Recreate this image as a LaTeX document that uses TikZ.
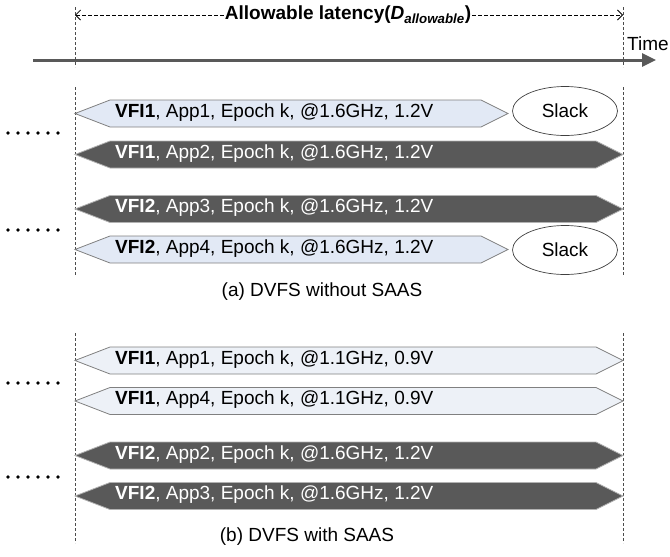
\documentclass[tikz,border=0pt]{standalone}
\usepackage{fontspec}
\setmainfont{Liberation Sans}
\usetikzlibrary{arrows.meta,shapes.geometric}
\definecolor{lightfill}{HTML}{E2E9F5}
\definecolor{palefill}{HTML}{EDF1F7}
\definecolor{darkfill}{HTML}{595959}
\tikzset{
    lightbar/.style ={
        draw=black!50,
        fill=lightfill,
        line width=0.8pt
    },
    palebar/.style ={
        draw=black!50,
        fill=palefill,
        line width=0.8pt
    },
    darkbar/.style ={
        draw=black!30,
        fill=darkfill,
        line width=0.8pt
    },
    bartext/.style ={
        anchor=base west,
        inner sep=0pt
    },
    slack/.style ={
        shape=ellipse,
        draw=black!75,
        line width=0.7pt,
        minimum width=105pt,
        minimum height=49pt
    },
    guide/.style ={
        draw=black!70,
        dash pattern=on 3pt off 2pt,
        line width=0.7pt
    }
}
% one task: style, centre y, x of right tip
\newcommand{\taskshape}[3]{%
    \draw[#1] (75,#2) -- (110,#2-13.5) -- (#3-27,#2-13.5) -- (#3,#2)
        -- (#3-27,#2+13.5) -- (110,#2+13.5) -- cycle;}

\begin{document}
\begin{tikzpicture}[x=1pt,y=-1pt,font=\fontsize{19}{23}\selectfont]
    \useasboundingbox (0,0) rectangle (670,557);
    % time axis
    \coordinate (t0) at (33,60);
    \coordinate (t1) at (656,60);
    \draw[darkfill,line width=3pt,-{Triangle[length=14pt,width=13pt]}] (t0) -- (t1);
    \node[anchor=base west,inner sep=0pt] (time) at (627,50) {Time};
    % latency bounds
    \draw[guide] (75,7) -- (75,67);
    \draw[guide] (623,7) -- (623,67);
    \draw[guide] (75,87) -- (75,275);
    \draw[guide] (623,87) -- (623,275);
    \draw[guide] (75,333) -- (75,543);
    \draw[guide] (623,333) -- (623,543);
    \coordinate (latL) at (75,15);
    \coordinate (latR) at (623,15);
    \node[fill=white,inner sep=1pt,font=\fontsize{19}{23}\selectfont\bfseries] (latency) at (348,15)
        {Allowable latency(\textit{D}\textsubscript{\textit{allowable}})};
    \draw[dash pattern=on 4pt off 2pt,line width=0.8pt,-{Straight Barb[length=5pt,width=10pt]}] (latency) -- (latL);
    \draw[dash pattern=on 4pt off 2pt,line width=0.8pt,-{Straight Barb[length=5pt,width=10pt]}] (latency) -- (latR);

    % (a) without SAAS
    \taskshape{lightbar}{113.5}{508}
    \taskshape{darkbar}{154.5}{623}
    \taskshape{darkbar}{209}{623}
    \taskshape{lightbar}{249.5}{508}
    \node[bartext] (a1) at (115,117) {\textbf{VFI1}, App1, Epoch k, @1.6GHz, 1.2V};
    \node[bartext,text=white] (a2) at (115,158) {\textbf{VFI1}, App2, Epoch k, @1.6GHz, 1.2V};
    \node[bartext,text=white] (a3) at (115,212.5) {\textbf{VFI2}, App3, Epoch k, @1.6GHz, 1.2V};
    \node[bartext] (a4) at (115,253) {\textbf{VFI2}, App4, Epoch k, @1.6GHz, 1.2V};
    \node[slack] (slackA) at (565,111) {Slack};
    \node[slack] (slackB) at (565,250) {Slack};
    \node (capA) at (322,292) {(a) DVFS without SAAS};

    % (b) with SAAS
    \taskshape{palebar}{360.5}{623}
    \taskshape{palebar}{401}{623}
    \taskshape{darkbar}{455.5}{623}
    \taskshape{darkbar}{496}{623}
    \node[bartext] (b1) at (115,364) {\textbf{VFI1}, App1, Epoch k, @1.1GHz, 0.9V};
    \node[bartext] (b2) at (115,404.5) {\textbf{VFI1}, App4, Epoch k, @1.1GHz, 0.9V};
    \node[bartext,text=white] (b3) at (115,459) {\textbf{VFI2}, App2, Epoch k, @1.6GHz, 1.2V};
    \node[bartext,text=white] (b4) at (115,499.5) {\textbf{VFI2}, App3, Epoch k, @1.6GHz, 1.2V};
    \node (capB) at (307,537) {(b) DVFS with SAAS};

    % dots
    \foreach \y in {133,230,383,477}
        \foreach \x in {8,18,...,58}
            \fill (\x,\y) circle (1.8pt);
\end{tikzpicture}
\end{document}
